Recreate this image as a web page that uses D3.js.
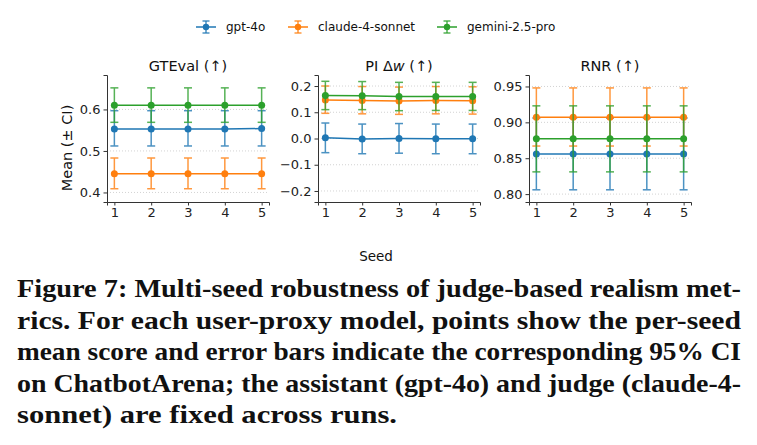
<!DOCTYPE html>
<html lang="en">
<head>
<meta charset="utf-8">
<script type="text/javascript" src="https://cdnjs.cloudflare.com/ajax/libs/d3/7.8.5/d3.min.js"></script>
<style>
  body { margin: 0; background: #fff; }
  svg { display: block; }
</style>
</head>
<body>
<div id="container"></div>
<script type="text/javascript">
    // data
    var seeds = [1, 2, 3, 4, 5];
    var models = ["gpt-4o", "claude-4-sonnet", "gemini-2.5-pro"];
    var colors = ["#1f77b4", "#ff7f0e", "#2ca02c"];

    // GTEval: mean / lower / upper per seed
    var gtevalMean = [[0.553, 0.553, 0.553, 0.553, 0.554], [0.445, 0.445, 0.445, 0.445, 0.445], [0.610, 0.610, 0.610, 0.610, 0.610]];
    var gtevalLo = [[0.512, 0.512, 0.512, 0.512, 0.512], [0.409, 0.409, 0.409, 0.409, 0.409], [0.569, 0.569, 0.569, 0.569, 0.569]];
    var gtevalHi = [[0.597, 0.597, 0.597, 0.597, 0.597], [0.483, 0.483, 0.483, 0.483, 0.483], [0.652, 0.652, 0.652, 0.652, 0.652]];

    // PI delta w
    var piMean = [[0.003, -0.002, 0.000, -0.001, -0.001], [0.147, 0.145, 0.143, 0.145, 0.144], [0.164, 0.163, 0.160, 0.160, 0.160]];
    var piLo = [[-0.054, -0.058, -0.056, -0.058, -0.058], [0.096, 0.094, 0.092, 0.094, 0.093], [0.110, 0.110, 0.106, 0.107, 0.107]];
    var piHi = [[0.059, 0.055, 0.057, 0.055, 0.055], [0.200, 0.198, 0.196, 0.198, 0.197], [0.218, 0.217, 0.214, 0.214, 0.214]];

    // RNR
    var rnrMean = [[0.856, 0.856, 0.856, 0.856, 0.856], [0.907, 0.907, 0.907, 0.907, 0.907], [0.877, 0.877, 0.877, 0.877, 0.877]];
    var rnrLo = [[0.806, 0.806, 0.806, 0.806, 0.806], [0.867, 0.867, 0.867, 0.867, 0.867], [0.831, 0.831, 0.831, 0.831, 0.831]];
    var rnrHi = [[0.906, 0.906, 0.906, 0.906, 0.906], [0.948, 0.948, 0.948, 0.948, 0.948], [0.923, 0.923, 0.923, 0.923, 0.923]];

    var titles = ["GTEval (\u2191)", "PI \u0394w (\u2191)", "RNR (\u2191)"];
    var yTicks = [[0.4, 0.5, 0.6], [-0.2, -0.1, 0.0, 0.1, 0.2], [0.80, 0.85, 0.90, 0.95]];
    var yFormats = [".1f", ".1f", ".2f"];
    var yDomains = [[0.377, 0.683], [-0.242, 0.242], [0.789, 0.966]];

    var captionLines = [
        "Figure 7: Multi-seed robustness of judge-based realism met-",
        "rics. For each user-proxy model, points show the per-seed",
        "mean score and error bars indicate the corresponding 95% CI",
        "on ChatbotArena; the assistant (gpt-4o) and judge (claude-4-",
        "sonnet) are fixed across runs."
    ];
    var captionWidths = [724, 724, 724, 724, 380];

    var w = 757;
    var h = 445;
    var font = "DejaVu Sans, sans-serif";

    var svg = d3.select("#container")
                .append("svg")
                .attr("width", w)
                .attr("height", h);

    var panelLeft = [107, 318, 529];
    var panelW = 162;
    var plotTop = 75, plotBottom = 202;

    var panels = [
        {mean: gtevalMean, lo: gtevalLo, hi: gtevalHi},
        {mean: piMean, lo: piLo, hi: piHi},
        {mean: rnrMean, lo: rnrLo, hi: rnrHi}
    ];

    panels.forEach(function(p, i) {
        var g = svg.append("g");
        var x = d3.scaleLinear().domain([0.8, 5.2]).range([panelLeft[i], panelLeft[i] + panelW]);
        var y = d3.scaleLinear().domain(yDomains[i]).range([plotBottom, plotTop]);

        // dotted grid
        g.selectAll(".grid")
            .data(yTicks[i])
            .enter()
            .append("line")
            .attr("x1", panelLeft[i])
            .attr("x2", panelLeft[i] + panelW)
            .attr("y1", function(d) { return y(d); })
            .attr("y2", function(d) { return y(d); })
            .attr("stroke", "#c8c8c8")
            .attr("stroke-width", 0.8)
            .attr("stroke-dasharray", "1,2");

        var xAxis = g.append("g")
            .attr("transform", "translate(0," + plotBottom + ")")
            .call(d3.axisBottom(x).tickValues(seeds).tickFormat(d3.format("d")).tickSizeOuter(0).tickSize(3.5).tickPadding(2.5));
        var yAxis = g.append("g")
            .attr("transform", "translate(" + panelLeft[i] + ",0)")
            .call(d3.axisLeft(y).tickValues(yTicks[i]).tickFormat(d3.format(yFormats[i])).tickSizeOuter(0).tickSize(3.5).tickPadding(3));

        [xAxis, yAxis].forEach(function(a) {
            a.select(".domain").attr("stroke", "#333").attr("stroke-width", 1);
            a.selectAll(".tick line").attr("stroke", "#333").attr("stroke-width", 1);
            a.selectAll(".tick text")
                .attr("font-family", font)
                .attr("font-size", 13)
                .attr("fill", "#222");
        });

        var t = g.append("text")
            .attr("x", panelLeft[i] + panelW / 2)
            .attr("y", 71)
            .attr("text-anchor", "middle")
            .attr("font-family", font)
            .attr("font-size", 14.5)
            .attr("fill", "#111");
        if (i === 1) {
            t.append("tspan").text("PI \u0394");
            t.append("tspan").attr("font-style", "italic").text("w");
            t.append("tspan").text(" (\u2191)");
        } else {
            t.text(titles[i]);
        }

        models.forEach(function(m, k) {
            var pts = seeds.map(function(s, j) {
                return {s: s, m: p.mean[k][j], lo: p.lo[k][j], hi: p.hi[k][j]};
            });
            var sg = g.append("g");

            var eb = sg.selectAll(".eb").data(pts).enter().append("g").attr("opacity", 0.8);
            eb.append("line")
                .attr("x1", function(d) { return x(d.s); })
                .attr("x2", function(d) { return x(d.s); })
                .attr("y1", function(d) { return y(d.lo); })
                .attr("y2", function(d) { return y(d.hi); })
                .attr("stroke", colors[k]).attr("stroke-width", 1.5);
            ["lo", "hi"].forEach(function(key) {
                eb.append("line")
                    .attr("x1", function(d) { return x(d.s) - 4; })
                    .attr("x2", function(d) { return x(d.s) + 4; })
                    .attr("y1", function(d) { return y(d[key]); })
                    .attr("y2", function(d) { return y(d[key]); })
                    .attr("stroke", colors[k]).attr("stroke-width", 1.5);
            });

            sg.append("path")
                .datum(pts)
                .attr("fill", "none")
                .attr("stroke", colors[k])
                .attr("stroke-width", 1.5)
                .attr("d", d3.line().x(function(d) { return x(d.s); }).y(function(d) { return y(d.m); }));

            sg.selectAll("circle")
                .data(pts)
                .enter()
                .append("circle")
                .attr("cx", function(d) { return x(d.s); })
                .attr("cy", function(d) { return y(d.m); })
                .attr("r", 3.5)
                .attr("fill", colors[k]);
        });
    });

    // y label
    svg.append("text")
        .attr("transform", "translate(72,148) rotate(-90)")
        .attr("text-anchor", "middle")
        .attr("font-family", font)
        .attr("font-size", 14.5)
        .attr("fill", "#111")
        .text("Mean (\u00b1 CI)");

    // x label
    svg.append("text")
        .attr("x", 376)
        .attr("y", 261)
        .attr("text-anchor", "middle")
        .attr("font-family", font)
        .attr("font-size", 13.5)
        .attr("fill", "#111")
        .text("Seed");

    // legend
    var legendX = [206, 298, 447];
    var legend = svg.selectAll(".legend")
        .data(models)
        .enter()
        .append("g")
        .attr("transform", function(d, i) { return "translate(" + legendX[i] + ",27)"; });
    legend.append("line").attr("x1", -10).attr("x2", 10)
        .attr("stroke", function(d, i) { return colors[i]; }).attr("stroke-width", 1.5);
    legend.append("line").attr("y1", -6).attr("y2", 6)
        .attr("stroke", function(d, i) { return colors[i]; }).attr("stroke-width", 1.5).attr("opacity", 0.8);
    legend.append("line").attr("x1", -3.5).attr("x2", 3.5).attr("y1", -6).attr("y2", -6)
        .attr("stroke", function(d, i) { return colors[i]; }).attr("stroke-width", 1.5).attr("opacity", 0.8);
    legend.append("line").attr("x1", -3.5).attr("x2", 3.5).attr("y1", 6).attr("y2", 6)
        .attr("stroke", function(d, i) { return colors[i]; }).attr("stroke-width", 1.5).attr("opacity", 0.8);
    legend.append("circle").attr("r", 3.2).attr("fill", function(d, i) { return colors[i]; });
    legend.append("text")
        .attr("x", 20)
        .attr("y", 4)
        .attr("font-family", font)
        .attr("font-size", 12)
        .attr("fill", "#111")
        .text(function(d) { return d; });

    // caption
    svg.selectAll(".cap")
        .data(captionLines)
        .enter()
        .append("text")
        .attr("x", 17)
        .attr("y", function(d, i) { return 297 + i * 31.5; })
        .attr("font-family", "Liberation Serif, serif")
        .attr("font-weight", "bold")
        .attr("font-size", 26)
        .attr("fill", "#111")
        .attr("textLength", function(d, i) { return captionWidths[i]; })
        .attr("lengthAdjust", "spacingAndGlyphs")
        .text(function(d) { return d; });
</script>
</body>
</html>
